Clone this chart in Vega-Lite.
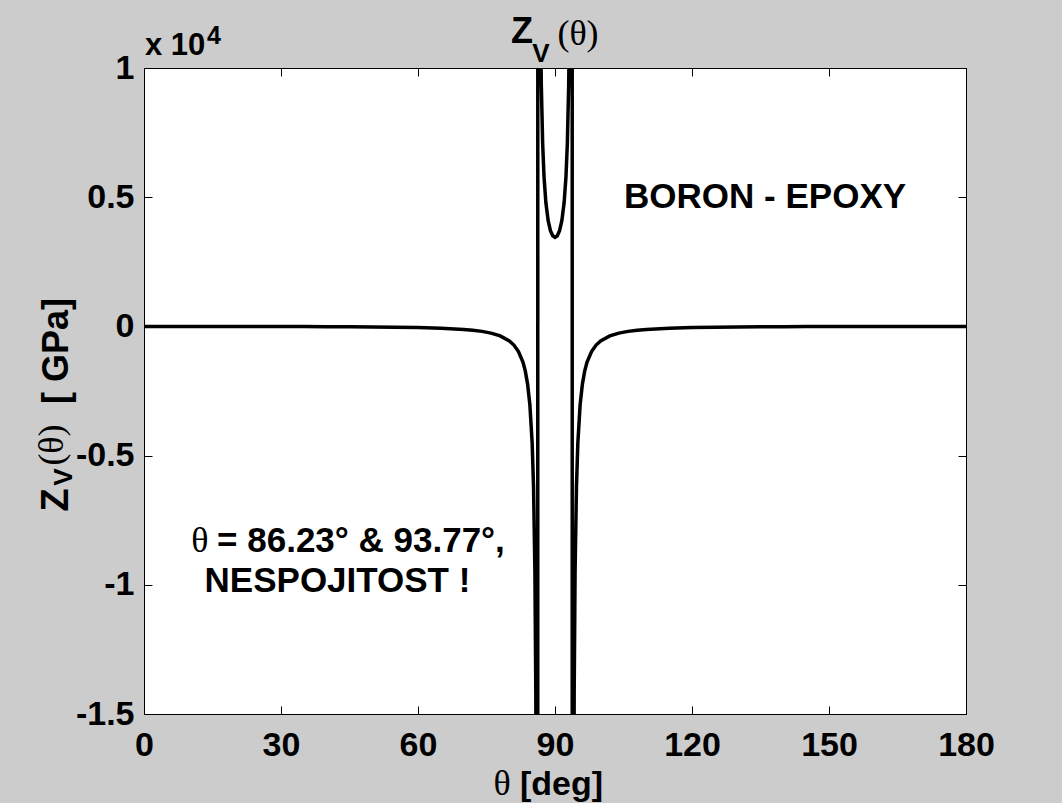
{
  "$schema": "https://vega.github.io/schema/vega-lite/v6.json",
  "autosize": {"type": "none"},
  "padding": {"left": 144, "top": 68, "right": 96, "bottom": 89},
  "width": 822,
  "height": 646,
  "background": "#cccccc",
  "config": {
    "view": {"fill": "white", "stroke": "black", "strokeWidth": 1},
    "axis": {
      "domainColor": "black", "domainWidth": 1,
      "tickColor": "black", "tickWidth": 1, "tickSize": -8,
      "grid": false,
      "labelFont": "Liberation Sans", "labelFontWeight": "bold", "labelFontSize": 34, "labelColor": "black",
      "labelFlush": false, "labelOverlap": false, "labelBound": false,
      "title": null
    },
    "text": {"color": "black", "baseline": "alphabetic"}
  },
  "datasets": {
    "curve": [
      {"theta": 0, "z": 0}, {"theta": 5, "z": -0.11}, {"theta": 10, "z": -0.47}, {"theta": 15, "z": -1.07},
      {"theta": 20, "z": -1.98}, {"theta": 25, "z": -3.26}, {"theta": 30, "z": -5.0}, {"theta": 35, "z": -7.35},
      {"theta": 40, "z": -10.6}, {"theta": 45, "z": -15.0}, {"theta": 50, "z": -21.4}, {"theta": 55, "z": -30.8},
      {"theta": 60, "z": -45.5}, {"theta": 65, "z": -70.2}, {"theta": 70, "z": -116.8}, {"theta": 72, "z": -147.8},
      {"theta": 74, "z": -192.2}, {"theta": 76, "z": -258.8}, {"theta": 78, "z": -366.4}, {"theta": 80, "z": -559.4},
      {"theta": 81, "z": -721.4}, {"theta": 82, "z": -971.1}, {"theta": 83, "z": -1394}, {"theta": 83.5, "z": -1732},
      {"theta": 84, "z": -2232}, {"theta": 84.5, "z": -3036}, {"theta": 85, "z": -4518}, {"theta": 85.3, "z": -6190},
      {"theta": 85.6, "z": -9477}, {"theta": 85.8, "z": -14237}, {"theta": 86.0, "z": -27307}, {"theta": 86.1, "z": -48948},
      {"theta": 86.2, "z": -215300},
      {"theta": 86.26, "z": 216600}, {"theta": 86.3, "z": 93378}, {"theta": 86.4, "z": 38994}, {"theta": 86.6, "z": 18419},
      {"theta": 86.8, "z": 12303}, {"theta": 87.0, "z": 9379}, {"theta": 87.3, "z": 7065}, {"theta": 87.6, "z": 5788},
      {"theta": 88.0, "z": 4792}, {"theta": 88.5, "z": 4093}, {"theta": 89.0, "z": 3707}, {"theta": 89.5, "z": 3508},
      {"theta": 90, "z": 3446},
      {"theta": 90.5, "z": 3508}, {"theta": 91.0, "z": 3707}, {"theta": 91.5, "z": 4093}, {"theta": 92.0, "z": 4792},
      {"theta": 92.4, "z": 5788}, {"theta": 92.7, "z": 7065}, {"theta": 93.0, "z": 9379}, {"theta": 93.2, "z": 12303},
      {"theta": 93.4, "z": 18419}, {"theta": 93.6, "z": 38994}, {"theta": 93.7, "z": 93378}, {"theta": 93.74, "z": 216600},
      {"theta": 93.8, "z": -215300},
      {"theta": 93.9, "z": -48948}, {"theta": 94.0, "z": -27307}, {"theta": 94.2, "z": -14237}, {"theta": 94.4, "z": -9477},
      {"theta": 94.7, "z": -6190}, {"theta": 95, "z": -4518}, {"theta": 95.5, "z": -3036}, {"theta": 96, "z": -2232},
      {"theta": 96.5, "z": -1732}, {"theta": 97, "z": -1394}, {"theta": 98, "z": -971.1}, {"theta": 99, "z": -721.4},
      {"theta": 100, "z": -559.4}, {"theta": 102, "z": -366.4}, {"theta": 104, "z": -258.8}, {"theta": 106, "z": -192.2},
      {"theta": 108, "z": -147.8}, {"theta": 110, "z": -116.8}, {"theta": 115, "z": -70.2}, {"theta": 120, "z": -45.5},
      {"theta": 125, "z": -30.8}, {"theta": 130, "z": -21.4}, {"theta": 135, "z": -15.0}, {"theta": 140, "z": -10.6},
      {"theta": 145, "z": -7.35}, {"theta": 150, "z": -5.0}, {"theta": 155, "z": -3.26}, {"theta": 160, "z": -1.98},
      {"theta": 165, "z": -1.07}, {"theta": 170, "z": -0.47}, {"theta": 175, "z": -0.11}, {"theta": 180, "z": 0}
    ],
    "one": [{}]
  },
  "resolve": {"axis": {"x": "independent", "y": "independent"}},
  "layer": [
    {
      "data": {"name": "curve"},
      "mark": {"type": "line", "color": "black", "strokeWidth": 3.5, "clip": true},
      "encoding": {
        "x": {"field": "theta", "type": "quantitative",
              "scale": {"domain": [0, 180], "nice": false, "zero": false},
              "axis": {"orient": "bottom", "values": [0, 30, 60, 90, 120, 150, 180], "labelPadding": 22}},
        "y": {"field": "z", "type": "quantitative",
              "scale": {"domain": [-15000, 10000], "nice": false, "zero": false},
              "axis": {"orient": "left", "values": [-15000, -10000, -5000, 0, 5000, 10000], "labelPadding": 18,
                       "labelExpr": "'' + (datum.value / 10000)"}}
      }
    },
    {
      "data": {"name": "curve"},
      "mark": {"type": "point", "opacity": 0},
      "encoding": {
        "x": {"field": "theta", "type": "quantitative",
              "scale": {"domain": [0, 180], "nice": false, "zero": false},
              "axis": {"orient": "top", "values": [0, 30, 60, 90, 120, 150, 180], "labels": false}},
        "y": {"field": "z", "type": "quantitative",
              "scale": {"domain": [-15000, 10000], "nice": false, "zero": false},
              "axis": {"orient": "right", "values": [-15000, -10000, -5000, 0, 5000, 10000], "labels": false}}
      }
    },
    {
      "data": {"name": "one"},
      "mark": {"type": "text", "text": "Z", "font": "Liberation Sans", "fontWeight": "bold", "fontSize": 36, "align": "center", "dx": -33, "dy": -25},
      "encoding": {"x": {"datum": 90, "type": "quantitative", "axis": null}, "y": {"datum": 10000, "type": "quantitative", "axis": null}}
    },
    {
      "data": {"name": "one"},
      "mark": {"type": "text", "text": "V", "font": "Liberation Sans", "fontWeight": "bold", "fontSize": 26, "align": "center", "dx": -14, "dy": -6},
      "encoding": {"x": {"datum": 90, "type": "quantitative", "axis": null}, "y": {"datum": 10000, "type": "quantitative", "axis": null}}
    },
    {
      "data": {"name": "one"},
      "mark": {"type": "text", "text": "(θ)", "font": "Liberation Serif", "fontSize": 36, "align": "center", "dx": 23, "dy": -23},
      "encoding": {"x": {"datum": 90, "type": "quantitative", "axis": null}, "y": {"datum": 10000, "type": "quantitative", "axis": null}}
    },
    {
      "data": {"name": "one"},
      "mark": {"type": "text", "text": "x 10", "font": "Liberation Sans", "fontWeight": "bold", "fontSize": 31, "align": "left", "dx": 1, "dy": -13},
      "encoding": {"x": {"datum": 0, "type": "quantitative", "axis": null}, "y": {"datum": 10000, "type": "quantitative", "axis": null}}
    },
    {
      "data": {"name": "one"},
      "mark": {"type": "text", "text": "4", "font": "Liberation Sans", "fontWeight": "bold", "fontSize": 25, "align": "left", "dx": 63, "dy": -24},
      "encoding": {"x": {"datum": 0, "type": "quantitative", "axis": null}, "y": {"datum": 10000, "type": "quantitative", "axis": null}}
    },
    {
      "data": {"name": "one"},
      "mark": {"type": "text", "text": "Z", "font": "Liberation Sans", "fontWeight": "bold", "fontSize": 38, "align": "center", "angle": 270, "dy": -76},
      "encoding": {"x": {"datum": 0, "type": "quantitative", "axis": null}, "y": {"datum": -6718, "type": "quantitative", "axis": null}}
    },
    {
      "data": {"name": "one"},
      "mark": {"type": "text", "text": "V", "font": "Liberation Sans", "fontWeight": "bold", "fontSize": 26, "align": "center", "angle": 270, "dy": -72},
      "encoding": {"x": {"datum": 0, "type": "quantitative", "axis": null}, "y": {"datum": -5828, "type": "quantitative", "axis": null}}
    },
    {
      "data": {"name": "one"},
      "mark": {"type": "text", "text": "(θ)", "font": "Liberation Serif", "fontSize": 36, "align": "center", "angle": 270, "dy": -81},
      "encoding": {"x": {"datum": 0, "type": "quantitative", "axis": null}, "y": {"datum": -4590, "type": "quantitative", "axis": null}}
    },
    {
      "data": {"name": "one"},
      "mark": {"type": "text", "text": "[ GPa]", "font": "Liberation Sans", "fontWeight": "bold", "fontSize": 36, "align": "center", "angle": 270, "dy": -76},
      "encoding": {"x": {"datum": 0, "type": "quantitative", "axis": null}, "y": {"datum": -952, "type": "quantitative", "axis": null}}
    },
    {
      "data": {"name": "one"},
      "mark": {"type": "text", "text": "θ", "font": "Liberation Serif", "fontSize": 36, "align": "center", "dx": -53, "dy": 81},
      "encoding": {"x": {"datum": 90, "type": "quantitative", "axis": null}, "y": {"datum": -15000, "type": "quantitative", "axis": null}}
    },
    {
      "data": {"name": "one"},
      "mark": {"type": "text", "text": "[deg]", "font": "Liberation Sans", "fontWeight": "bold", "fontSize": 34, "align": "left", "dx": -35, "dy": 81},
      "encoding": {"x": {"datum": 90, "type": "quantitative", "axis": null}, "y": {"datum": -15000, "type": "quantitative", "axis": null}}
    },
    {
      "data": {"name": "one"},
      "mark": {"type": "text", "text": "BORON - EPOXY", "font": "Liberation Sans", "fontWeight": "bold", "fontSize": 35, "align": "center"},
      "encoding": {"x": {"datum": 136, "type": "quantitative", "axis": null}, "y": {"datum": 4580, "type": "quantitative", "axis": null}}
    },
    {
      "data": {"name": "one"},
      "mark": {"type": "text", "text": "θ", "font": "Liberation Serif", "fontSize": 36, "align": "center"},
      "encoding": {"x": {"datum": 12.26, "type": "quantitative", "axis": null}, "y": {"datum": -8731, "type": "quantitative", "axis": null}}
    },
    {
      "data": {"name": "one"},
      "mark": {"type": "text", "text": "= 86.23° & 93.77°,", "font": "Liberation Sans", "fontWeight": "bold", "fontSize": 35, "align": "left"},
      "encoding": {"x": {"datum": 16.0, "type": "quantitative", "axis": null}, "y": {"datum": -8731, "type": "quantitative", "axis": null}}
    },
    {
      "data": {"name": "one"},
      "mark": {"type": "text", "text": "NESPOJITOST !", "font": "Liberation Sans", "fontWeight": "bold", "fontSize": 35, "align": "center"},
      "encoding": {"x": {"datum": 42.37, "type": "quantitative", "axis": null}, "y": {"datum": -10279, "type": "quantitative", "axis": null}}
    }
  ]
}
